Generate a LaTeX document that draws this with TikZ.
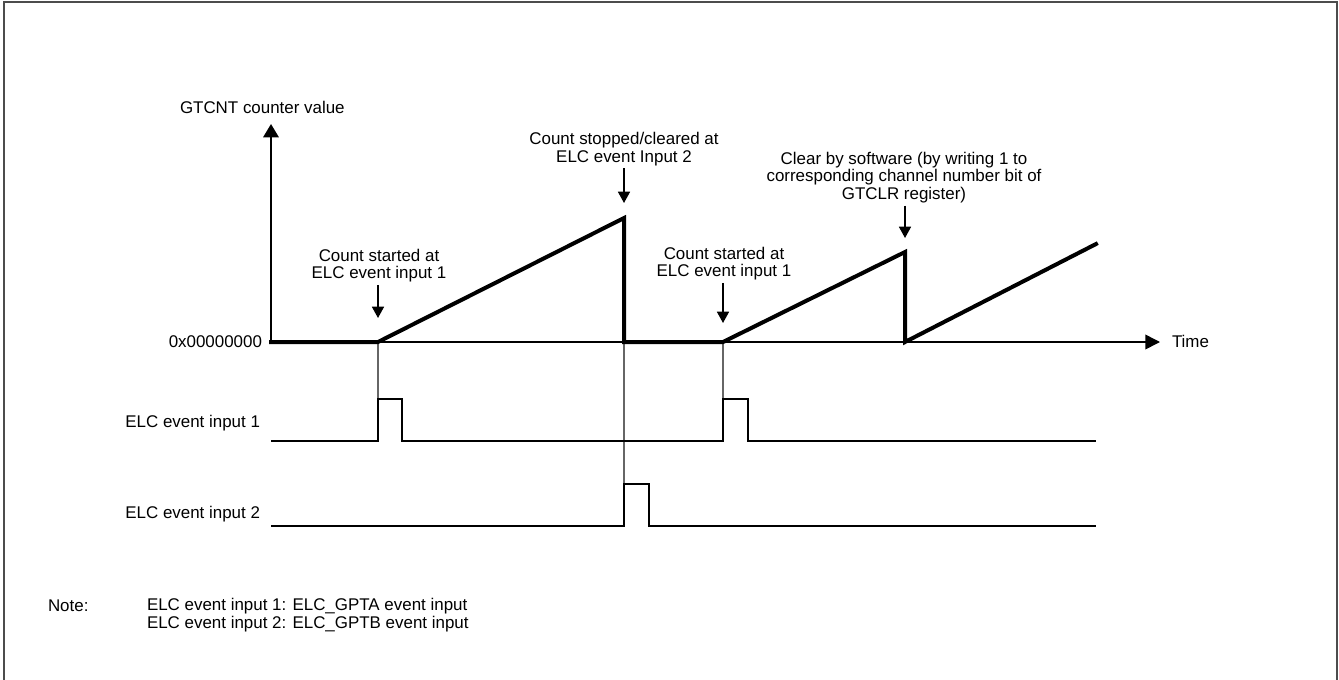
\documentclass[tikz,border=0pt]{standalone}
\usepackage{fontspec}
\setmainfont{Liberation Sans}
\usetikzlibrary{arrows.meta}
\begin{document}
\begin{tikzpicture}[x=0.75pt,y=-0.75pt,
  font=\fontsize{12.7}{13.2}\selectfont,
  lbl/.style={inner sep=0pt,outer sep=0pt,align=center},
  frameline/.style={draw=black!70,line width=1.2pt},
  axisline/.style={line width=1.7pt,-{Triangle[length=10pt,width=11.5pt]}},
  timeline/.style={line width=1.2pt,-{Triangle[length=11pt,width=11pt]}},
  wave/.style={line width=3pt,line join=miter,line cap=rect},
  sig/.style={line width=1.9pt,line join=miter},
  guide/.style={draw=black!60,line width=0.8pt},
  callout/.style={line width=1.2pt,shorten <=2pt,-{Triangle[length=8.5pt,width=9pt]}}]
\useasboundingbox (0,0) rectangle (1339,679);
\begin{scope}
\clip (0,0) rectangle (1339,679);
\draw[frameline] (4,720) -- (4,2) -- (1337,2) -- (1337,720);
\end{scope}
% coordinates
\coordinate (origin) at (271,342);
\coordinate (ytip) at (271,124);
\coordinate (xtip) at (1160,342);
% axes
\draw[timeline] (origin) -- (xtip);
\draw[axisline] (origin) -- (ytip);
% guides
\draw[guide] (378,342) -- (378,399);
\draw[guide] (723,342) -- (723,399);
\draw[guide] (624,342) -- (624,484);
% counter waveform
\draw[wave] (origin) -- (378,342) -- (624,218) -- (624,342) -- (723,342) -- (905,252) -- (905,342) -- (1096,244);
% event signals
\draw[sig] (271,441) -- (378,441) -- (378,399) -- (402,399) -- (402,441) -- (723,441) -- (723,399) -- (748,399) -- (748,441) -- (1096,441);
\draw[sig] (271,526) -- (624,526) -- (624,484) -- (649,484) -- (649,526) -- (1096,526);
% labels
\node[lbl,anchor=west] (ylab) at (180,107) {GTCNT counter value};
\node[lbl,anchor=east] (zero) at (262,342) {0x00000000};
\node[lbl,anchor=west] (time) at (1172,341) {Time};
\node[lbl,anchor=base east] (ev1) at (260,427) {ELC event input 1};
\node[lbl,anchor=base east] (ev2) at (260,518) {ELC event input 2};
% callouts
\node[lbl] (c1) at (379,265.5) {Count started at\\ELC event input 1};
\node[lbl] (c2) at (724,263.5) {Count started at\\ELC event input 1};
\node[lbl] (c3) at (624,149) {Count stopped/cleared at\\ELC event Input 2};
\node[lbl] (c4) at (904,177.5) {Clear by software (by writing 1 to\\corresponding channel number bit of\\GTCLR register)};
\coordinate (t1) at (378,318);
\coordinate (t2) at (723,323);
\coordinate (t3) at (624,203);
\coordinate (t4) at (905,238);
\draw[callout] (c1.south -| t1) -- (t1);
\draw[callout] (c2.south -| t2) -- (t2);
\draw[callout] (c3.south -| t3) -- (t3);
\draw[callout] (c4.south -| t4) -- (t4);
% note
\node[lbl,anchor=base west] (note) at (48,611) {Note:};
\node[lbl,anchor=north west,align=left] (notetext) at (147,598.5) {ELC event input 1: ELC\_GPTA event input\\ELC event input 2: ELC\_GPTB event input};
\end{tikzpicture}
\end{document}
